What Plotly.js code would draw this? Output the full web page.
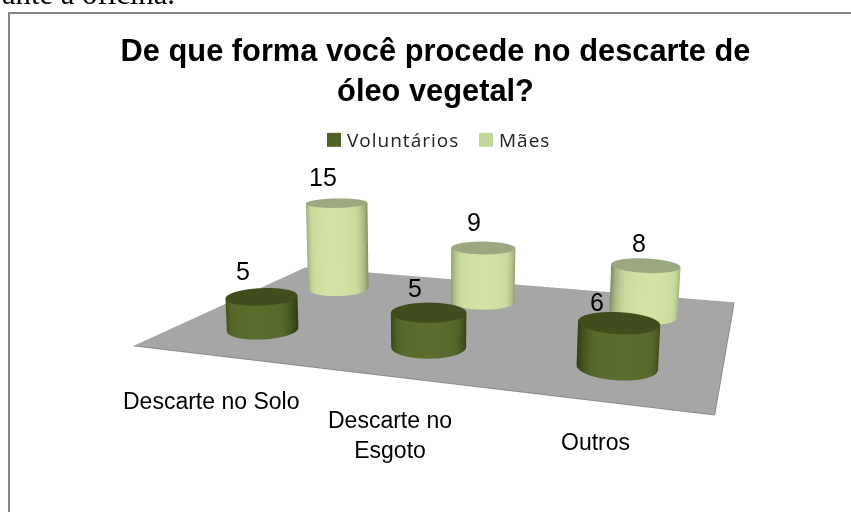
<!DOCTYPE html>
<html><head><meta charset="utf-8">
<script src="https://cdn.plot.ly/plotly-3.0.1.min.js"></script>
<style>html,body{margin:0;padding:0;width:851px;height:512px;overflow:hidden;background:#fff}
#c{position:absolute;left:-225px;top:-144px;width:1300px;height:800px}
.legendtext{letter-spacing:1px;transform:translateX(-7px)}</style></head>
<body><div id="c"></div>
<script>
const categories = ['Descarte no Solo', 'Descarte no<br>Esgoto', 'Outros'];
const seriesNames = ['Voluntários', 'Mães'];
const voluntarios = [5, 5, 6];
const maes = [15, 9, 8];
const chartTitle = 'De que forma você procede no descarte de<br>óleo vegetal?';
const pageText = 'ante a oficina.';

const W = 1300, H = 800, L = 225, T = 144;
const px = v => (v + L) / W, py = v => 1 - (v + T) / H;
const RX = 0.2, RY = 0.198, N = 48;
const flat = {ambient: 1, diffuse: 0, specular: 0, roughness: 1, fresnel: 0};
const sideScales = [
  [[0, '#2f3b16'], [0.35, '#3f4e1d'], [0.7, '#55672a'], [1, '#5b6d2d']],
  [[0, '#7a8760'], [0.35, '#a3b280'], [0.72, '#cbdb9e'], [1, '#d3e3a6']]
];
const capColors = ['#414d1d', '#9ba880'];
const legendColors = ['#4f6228', '#c3d69b'];
const viewAngle = Math.atan2(-1.719, 0.5465);
const labelShiftX = [[-19, -14, -22], [-14, -9, -7]];
const labelShiftY = [[26, 24, 21], [26, 26, 22]];

function cylinder(xc, yc, h, s) {
  const X = [], Y = [], Z = [], C = [];
  for (const zv of [0, h]) {
    const xr = [], yr = [], zr = [], cr = [];
    for (let i = 0; i <= N; i++) {
      const a = 2 * Math.PI * i / N;
      xr.push(xc + RX * Math.cos(a)); yr.push(yc + RY * Math.sin(a)); zr.push(zv);
      cr.push(Math.abs(Math.cos(a - viewAngle)));
    }
    X.push(xr); Y.push(yr); Z.push(zr); C.push(cr);
  }
  const side = {type: 'surface', x: X, y: Y, z: Z, surfacecolor: C, cmin: 0, cmax: 1,
    colorscale: sideScales[s], showscale: false, lighting: flat, hoverinfo: 'skip', showlegend: false};
  const cx = [], cy = [], cz = [], cc = [];
  for (const rad of [0, 1]) {
    const xr = [], yr = [], zr = [], cr = [];
    for (let i = 0; i <= N; i++) {
      const a = 2 * Math.PI * i / N;
      xr.push(xc + rad * RX * Math.cos(a)); yr.push(yc + rad * RY * Math.sin(a)); zr.push(h); cr.push(0);
    }
    cx.push(xr); cy.push(yr); cz.push(zr); cc.push(cr);
  }
  const cap = {type: 'surface', x: cx, y: cy, z: cz, surfacecolor: cc, cmin: 0, cmax: 1,
    colorscale: [[0, capColors[s]], [1, capColors[s]]], showscale: false, lighting: flat, hoverinfo: 'skip', showlegend: false};
  return [side, cap];
}

const traces = [{
  type: 'mesh3d', x: [-0.5, 2.5, 2.5, -0.5], y: [-0.5, -0.5, 1.5, 1.5], z: [0, 0, 0, 0],
  i: [0, 0], j: [1, 2], k: [2, 3], color: '#a6a6a6', flatshading: true, lighting: flat, hoverinfo: 'skip', showlegend: false
}, {
  type: 'scatter3d', mode: 'lines', x: [-0.5, 2.5, 2.5], y: [-0.5, -0.5, 1.5], z: [0, 0, 0],
  line: {color: '#8a8a8a', width: 2}, hoverinfo: 'skip', showlegend: false
}];
[voluntarios, maes].forEach((vals, s) => vals.forEach((v, c) => traces.push(...cylinder(c, s, v, s))));
seriesNames.forEach((n, s) => traces.push({
  type: 'scatter3d', mode: 'markers', x: [null], y: [null], z: [null], name: n,
  marker: {color: legendColors[s], symbol: 'square', size: 14}, hoverinfo: 'skip'
}));

const hidden = r => ({visible: false, range: r, autorange: false, showgrid: false, zeroline: false, showspikes: false});
const sceneAnn = [];
[voluntarios, maes].forEach((vals, s) => vals.forEach((v, c) => sceneAnn.push({
  x: c, y: s, z: v, text: String(v), showarrow: false, xshift: labelShiftX[s][c], yshift: labelShiftY[s][c],
  font: {family: 'Liberation Sans', size: 25, color: '#000'}
})));

const catPos = [[211, 401], [390, 435], [596, 442]];
const annotations = categories.map((t, i) => ({
  xref: 'paper', yref: 'paper', x: px(catPos[i][0]), y: py(catPos[i][1]), text: t, showarrow: false,
  font: {family: 'Liberation Sans', size: 23, color: '#000'}, align: 'center', xanchor: 'center', yanchor: 'middle'
}));
annotations.push({xref: 'paper', yref: 'paper', x: px(0), y: py(-6), text: pageText, showarrow: false,
  font: {family: 'Liberation Serif', size: 30.7, color: '#000'}, xanchor: 'left', yanchor: 'middle'});

const layout = {
  width: W, height: H, margin: {l: 0, r: 0, t: 0, b: 0}, paper_bgcolor: '#fff',
  title: {text: chartTitle, font: {family: 'Liberation Sans', size: 30.8, color: '#000', weight: 'bold'},
    x: px(435.5), xanchor: 'center', y: py(61), yanchor: 'middle'},
  showlegend: true,
  legend: {orientation: 'h', x: px(314), y: py(140), xanchor: 'left', yanchor: 'middle', entrywidth: 107, entrywidthmode: 'pixels',
    font: {family: 'Open Sans', size: 19, color: '#222'}, bgcolor: 'rgba(0,0,0,0)'},
  shapes: [{type: 'rect', xref: 'paper', yref: 'paper', x0: px(9), x1: px(870), y0: py(13), y1: py(530),
    line: {color: '#868686', width: 2}, fillcolor: 'rgba(0,0,0,0)', layer: 'below'}],
  annotations,
  scene: {
    domain: {x: [0, 1], y: [0, 1]}, bgcolor: 'rgba(0,0,0,0)',
    xaxis: hidden([-0.5, 2.5]), yaxis: hidden([-0.5, 1.5]), zaxis: hidden([0, 20]),
    aspectmode: 'manual', aspectratio: {x: 0.995, y: 0.68, z: 0.255},
    camera: {eye: {x: 0.5465, y: -1.719, z: 0.385}, center: {x: -0.069, y: 0.004, z: -0.002},
      up: {x: -0.0038, y: -0.0013, z: 1}, projection: {type: 'perspective'}},
    annotations: sceneAnn
  }
};
Plotly.newPlot('c', traces, layout, {displayModeBar: false, responsive: false});
</script></body></html>
